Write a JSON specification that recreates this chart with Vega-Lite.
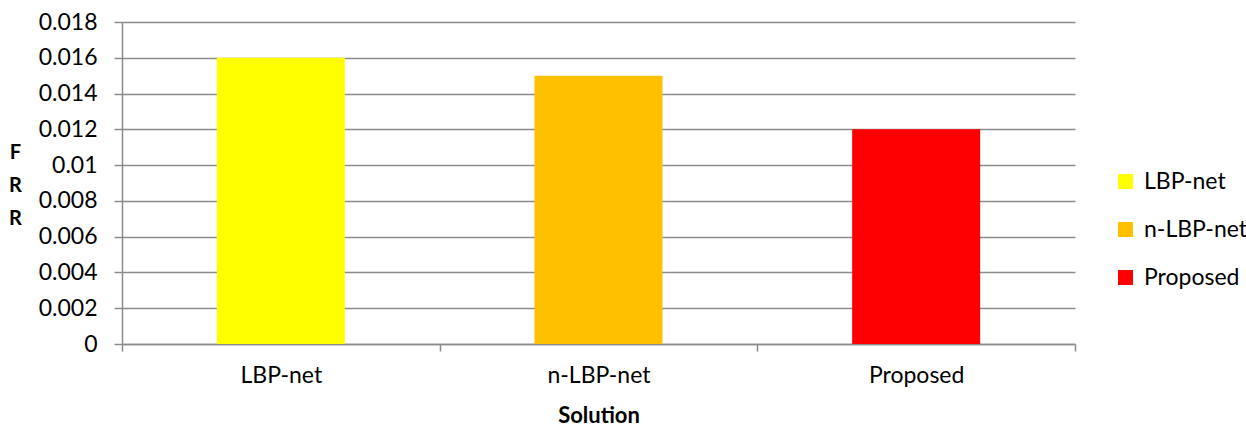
{
  "$schema": "https://vega.github.io/schema/vega-lite/v6.json",
  "width": 953,
  "height": 322,
  "autosize": {"type": "none"},
  "padding": {"left": 122, "top": 22, "right": 171, "bottom": 84},
  "background": "white",
  "data": {
    "values": [
      {"Solution": "LBP-net", "FRR": 0.016},
      {"Solution": "n-LBP-net", "FRR": 0.015},
      {"Solution": "Proposed", "FRR": 0.012}
    ]
  },
  "config": {
    "font": "Lato",
    "view": {"stroke": null},
    "axis": {
      "domainColor": "#8c8c8c",
      "domainWidth": 1.5,
      "tickColor": "#8c8c8c",
      "tickWidth": 1.5,
      "gridColor": "#8c8c8c",
      "gridWidth": 1.5,
      "labelColor": "#000000",
      "titleColor": "#000000",
      "labelFont": "Lato",
      "titleFont": "Lato",
      "labelFontSize": 23,
      "titleFontSize": 22,
      "titleFontWeight": "bold"
    }
  },
  "mark": {"type": "bar", "width": {"band": 0.403}},
  "encoding": {
    "x": {
      "field": "Solution",
      "type": "nominal",
      "sort": null,
      "scale": {"paddingInner": 0, "paddingOuter": 0},
      "axis": {
        "title": "Solution",
        "labelAngle": 0,
        "tickBand": "extent",
        "tickSize": 7,
        "labelPadding": 13,
        "titleX": 476.5,
        "titleY": 78,
        "titleBaseline": "alphabetic",
        "titleAnchor": "middle"
      }
    },
    "y": {
      "field": "FRR",
      "type": "quantitative",
      "scale": {"domain": [0, 0.018], "nice": false},
      "axis": {
        "title": ["F", "R", "R"],
        "titleAngle": 0,
        "titleAlign": "center",
        "titleBaseline": "alphabetic",
        "titleLineHeight": 33,
        "titleFontSize": 20,
        "titleX": -107,
        "titleY": 136,
        "values": [0, 0.002, 0.004, 0.006, 0.008, 0.01, 0.012, 0.014, 0.016, 0.018],
        "labelExpr": "datum.value == 0 ? '0' : format(datum.value, '.3~f')",
        "tickSize": 8,
        "labelPadding": 17,
        "grid": true
      }
    },
    "color": {
      "field": "Solution",
      "type": "nominal",
      "sort": null,
      "scale": {
        "domain": ["LBP-net", "n-LBP-net", "Proposed"],
        "range": ["#FFFF00", "#FFC000", "#FF0000"]
      },
      "legend": {
        "title": null,
        "orient": "none",
        "legendX": 992,
        "legendY": 148,
        "padding": 0,
        "symbolType": "square",
        "symbolSize": 225,
        "symbolStrokeWidth": 0,
        "labelFontSize": 23,
        "labelFont": "Lato",
        "labelColor": "#000000",
        "labelOffset": 7,
        "rowPadding": 24
      }
    }
  }
}
